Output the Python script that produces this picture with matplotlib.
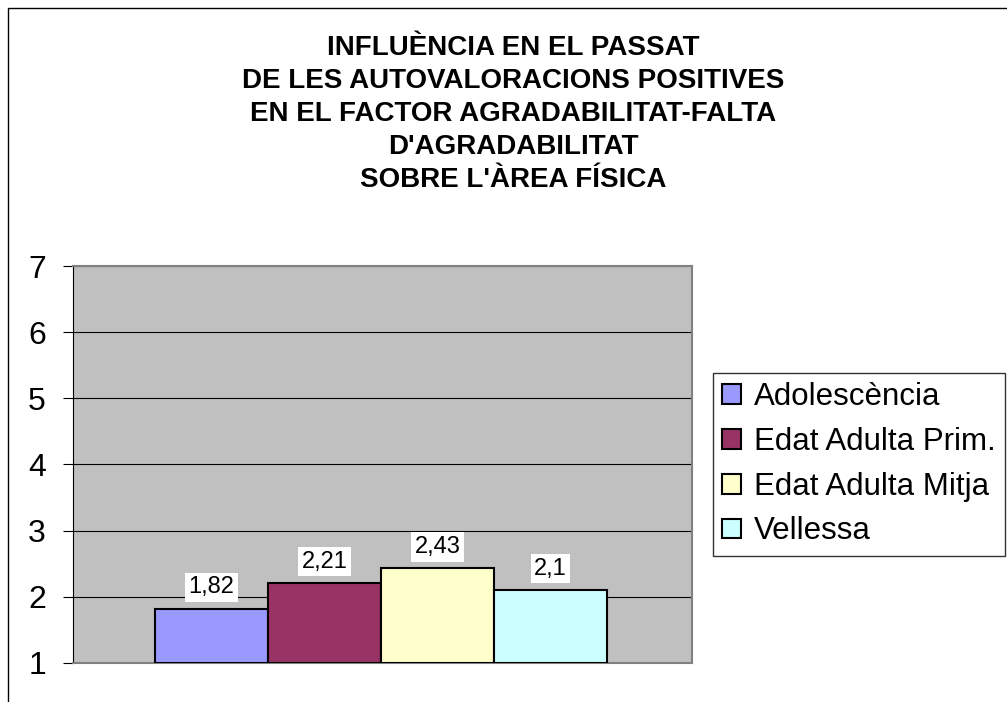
import matplotlib.pyplot as plt
from matplotlib.patches import Rectangle

plt.rcParams['font.family'] = ['Liberation Sans', 'DejaVu Sans']

title_lines = ["INFLUÈNCIA EN EL PASSAT",
               "DE LES AUTOVALORACIONS POSITIVES",
               "EN EL FACTOR AGRADABILITAT-FALTA",
               "D'AGRADABILITAT",
               "SOBRE L'ÀREA FÍSICA"]
series = ['Adolescència', 'Edat Adulta Prim.', 'Edat Adulta Mitja', 'Vellessa']
values = [1.82, 2.21, 2.43, 2.1]
labels = ['1,82', '2,21', '2,43', '2,1']
colors = ['#9999FF', '#993366', '#FFFFCC', '#CCFFFF']

W, H = 1007, 702
fig = plt.figure(figsize=(W / 100, H / 100), dpi=100)

# outer chart frame (right and bottom edges fall outside the picture)
fig.patches.append(Rectangle((8 / W, -0.1), 1.2, 1 - 8 / H + 0.1,
                             transform=fig.transFigure, fill=False,
                             edgecolor='black', linewidth=1))

ax = fig.add_axes([73 / W, 1 - 663 / H, 619 / W, 397 / H])
ax.set_facecolor('#C0C0C0')

group = 452 / 619
bw = group / len(series)
for i, (s, v, c) in enumerate(zip(series, values, colors)):
    x = -group / 2 + bw * (i + 0.5)
    ax.bar(x, v - 1, bottom=1, width=bw, color=c, edgecolor='black',
           linewidth=1.5, label=s, zorder=3)
    ax.annotate(labels[i], (x, v), xytext=(0, 7.5), textcoords='offset points',
                ha='center', va='bottom', fontsize=17, zorder=4,
                bbox=dict(facecolor='white', edgecolor='none', pad=2.5))

ax.set_xlim(-0.4976, 0.5024)
ax.set_ylim(1, 7)
ax.set_yticks(range(1, 8))
ax.set_xticks([])
ax.tick_params(axis='y', labelsize=23, length=7.5, width=0.8,
               direction='out', pad=12)
ax.yaxis.grid(True, color='black', linewidth=0.8)
ax.set_axisbelow(True)
ax.spines['left'].set_color('black')
ax.spines['left'].set_linewidth(0.8)
for sp in ['right', 'top', 'bottom']:
    ax.spines[sp].set_color('#808080')
    ax.spines[sp].set_linewidth(1.5)

# title, one line at a time
for k, line in enumerate(title_lines):
    fig.text(513 / W, 1 - (55 + 33 * k) / H, line, ha='center', va='baseline',
             fontsize=20, fontweight='bold')

leg = fig.legend(loc='upper left', bbox_to_anchor=(713 / W, 1 - 373 / H),
                 fontsize=22.5, frameon=True, fancybox=False, edgecolor='black',
                 handlelength=0.6, handleheight=0.6, handletextpad=0.4,
                 labelspacing=0.47, borderpad=0.3, borderaxespad=0)
leg.get_frame().set_linewidth(1)

fig.savefig('out.png', dpi=100)
